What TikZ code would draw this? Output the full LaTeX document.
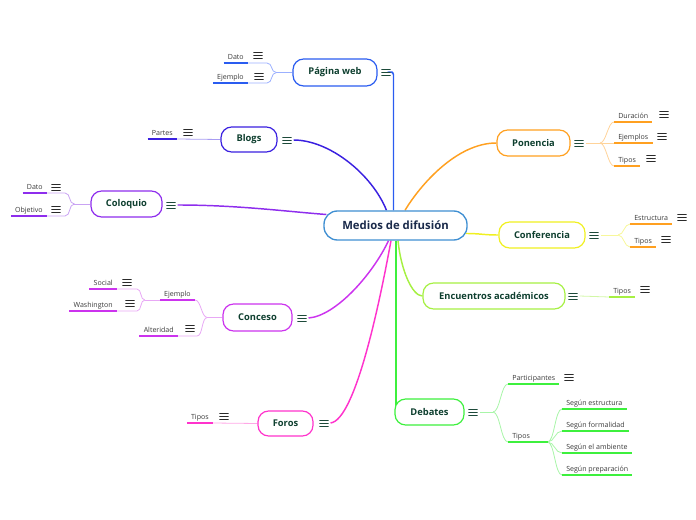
\documentclass[tikz,border=0pt]{standalone}
\usepackage{fontspec}
\setmainfont{Open Sans}
\usetikzlibrary{calc,backgrounds}
\definecolor{txtmain}{HTML}{0E3F2F}
\definecolor{txtc}{HTML}{1B2B4B}
\definecolor{txtsub}{HTML}{3A3A3A}
\definecolor{icmain}{HTML}{1D4A3A}
\definecolor{icsub}{HTML}{2A2A2A}
\definecolor{cblue}{HTML}{3F8FD2}
\definecolor{pwc}{HTML}{2A5CF0}\definecolor{pwl}{HTML}{9BB0FF}
\definecolor{blc}{HTML}{3A20E0}\definecolor{bll}{HTML}{A89CF2}
\definecolor{coc}{HTML}{8E2DED}\definecolor{col}{HTML}{C9A3F3}
\definecolor{cnc}{HTML}{CC33EE}\definecolor{cnl}{HTML}{E8A8F5}
\definecolor{foc}{HTML}{FF33CC}\definecolor{fol}{HTML}{FFA8E6}
\definecolor{ponc}{HTML}{FFA020}\definecolor{ponl}{HTML}{FFD399}
\definecolor{confc}{HTML}{F0F020}\definecolor{confl}{HTML}{F7F79A}
\definecolor{encc}{HTML}{A6F043}\definecolor{encl}{HTML}{D2F7A6}
\definecolor{debc}{HTML}{3DF03D}\definecolor{debl}{HTML}{A8F5A8}
\tikzset{
  topic/.style={draw=#1, line width=0.9pt, fill=white, rounded corners=8pt, inner sep=0pt,
    font=\fontsize{7}{8}\selectfont\bfseries, text=txtmain},
  sublbl/.style={inner xsep=3pt, inner ysep=1.6pt, font=\fontsize{5.3}{6}\selectfont,
    text=txtsub, text height=4pt, text depth=1pt},
  menu/.style={minimum width=6.8pt, minimum height=6pt, inner sep=0pt, outer sep=0pt,
    path picture={
      \foreach \f in {0.12,0.5,0.88}
        \draw[#1,line width=0.65pt] ($(path picture bounding box.south west)!\f!(path picture bounding box.north west)$) -- ($(path picture bounding box.south east)!\f!(path picture bounding box.north east)$);
    }},
  mainc/.style={line width=1.1pt, draw=#1},
  thinc/.style={line width=0.6pt, draw=#1},
  ul/.style={line width=1.3pt, draw=#1},
}
\newcommand\subL[5]{%
  \node[sublbl, anchor=south east] (#1) at (#2,#3) {#4};
  \draw[ul=#5] (#1.south west) -- (#1.south east);}
\newcommand\subR[5]{%
  \node[sublbl, anchor=south west] (#1) at (#2,#3) {#4};
  \draw[ul=#5] (#1.south west) -- (#1.south east);}
\begin{document}
\begin{tikzpicture}[x=0.75pt,y=-0.75pt]
\useasboundingbox (0,0) rectangle (696,520);
% central topic
\node[topic=cblue, line width=1pt, minimum width=107.25pt, minimum height=21.75pt, rounded corners=10pt,
  font=\fontsize{8.5}{10}\selectfont\bfseries, text=txtc] (c) at (395.5,225.5) {Medios de difusión};
% main topics
\node[topic=pwc, minimum width=63pt, minimum height=20.25pt] (pw) at (335,72.5) {Página web};
\node[topic=blc, minimum width=42pt, minimum height=18.75pt] (bl) at (249,139.5) {Blogs};
\node[topic=coc, minimum width=53.25pt, minimum height=19.5pt] (co) at (126.5,204) {Coloquio};
\node[topic=cnc, minimum width=51.75pt, minimum height=20.25pt] (cn) at (257.5,317.5) {Conceso};
\node[topic=foc, minimum width=41.25pt, minimum height=18.75pt] (fo) at (285.5,423.5) {Foros};
\node[topic=ponc, minimum width=54.75pt, minimum height=19.5pt] (pon) at (533.5,143) {Ponencia};
\node[topic=confc, minimum width=64.5pt, minimum height=19.5pt] (conf) at (542,235) {Conferencia};
\node[topic=encc, minimum width=106.5pt, minimum height=19.5pt] (enc) at (494,296) {Encuentros académicos};
\node[topic=debc, minimum width=51.75pt, minimum height=19.5pt] (deb) at (429.5,412) {Debates};
% icons of main topics
\node[menu=icmain] (pwi) at (386,72) {};
\node[menu=icmain] (bli) at (287,140) {};
\node[menu=icmain] (coi) at (171,205) {};
\node[menu=icmain] (cni) at (302,318) {};
\node[menu=icmain] (foi) at (324,423) {};
\node[menu=icmain] (poni) at (579,143) {};
\node[menu=icmain] (confi) at (594,235) {};
\node[menu=icmain] (enci) at (573,296) {};
\node[menu=icmain] (debi) at (473,412) {};
% subtopics
\subL{pwd}{248}{63}{Dato}{pwc}
\subL{pwe}{248}{83}{Ejemplo}{pwc}
\node[menu=icsub] (pwdi) at (258,55) {};
\node[menu=icsub] (pwei) at (259,76) {};
\subL{blp}{177}{139}{Partes}{blc}
\node[menu=icsub] (blpi) at (188,132) {};
\subL{cod}{47}{193}{Dato}{coc}
\subL{coo}{47}{216}{Objetivo}{coc}
\node[menu=icsub] (codi) at (56,187) {};
\node[menu=icsub] (cooi) at (56,209) {};
\subL{cne}{195}{300}{Ejemplo}{cnc}
\subL{cna}{178}{336}{Alteridad}{cnc}
\subL{cns}{117}{289}{Social}{cnc}
\subL{cnw}{117}{311}{Washington}{cnc}
\node[menu=icsub] (cnai) at (190,328) {};
\node[menu=icsub] (cnsi) at (127,282) {};
\node[menu=icsub] (cnwi) at (130,303) {};
\subL{fot}{213}{423}{Tipos}{foc}
\node[menu=icsub] (foti) at (224,416) {};
\subR{pd}{614}{122}{Duración}{ponc}
\subR{pe}{614}{143}{Ejemplos}{ponc}
\subR{pt}{614}{166}{Tipos}{ponc}
\node[menu=icsub] (pdi) at (664,114) {};
\node[menu=icsub] (pei) at (662,136) {};
\node[menu=icsub] (pti) at (651,158) {};
\subR{ce}{630}{224}{Estructura}{ponc}
\subR{ct}{630}{247}{Tipos}{ponc}
\node[menu=icsub] (cei) at (682,217) {};
\node[menu=icsub] (cti) at (666,239) {};
\subR{et}{609}{297}{Tipos}{encc}
\node[menu=icsub] (eti) at (645,289) {};
\subR{dp}{508}{384}{Participantes}{debc}
\node[menu=icsub] (dpi) at (569,377) {};
\node[sublbl, anchor=south west, text width=23.25pt, align=left] (dt) at (508,442) {Tipos};
\draw[ul=debc] (dt.south west) -- (dt.south east);
\subR{ds1}{562}{409}{Según estructura}{debc}
\subR{ds2}{562}{431}{Según formalidad}{debc}
\subR{ds3}{562}{453}{Según el ambiente}{debc}
\subR{ds4}{562}{475}{Según preparación}{debc}
% connectors
\begin{scope}[on background layer]
% main
\draw[mainc=pwc, rounded corners=2pt] ($(pwi.east)+(2,0)$) -| ($(c.north)+(-2,0)$);
\draw[mainc=blc] ($(bli.east)+(2,0)$) .. controls +(36,0) and +(-14.5,-36) .. ($(c.north)+(-9,0)$);
\draw[mainc=coc] ($(coi.east)+(2,0)$) .. controls +(60,0) and +(-40,-3) .. ($(c.west)+(3,-11)$);
\draw[mainc=cnc] ($(cni.east)+(2,0)$) .. controls +(27,-2) and +(-16,34) .. ($(c.south)+(-7,0)$);
\draw[mainc=foc] ($(foi.east)+(2,0)$) .. controls +(25,-3) and +(-11,60) .. ($(c.south)+(-4.5,0)$);
\draw[mainc=ponc] ($(c.north)+(9.5,0)$) .. controls +(15,-25) and +(-40,0) .. (pon.west);
\draw[mainc=confc] ($(c.east)+(-2,8)$) .. controls +(15,0) and +(-15,0) .. (conf.west);
\draw[mainc=encc] ($(c.south)+(2.5,0)$) .. controls +(3,30) and +(-10,0) .. (enc.west);
\draw[mainc=debc, line width=1.4pt] ($(deb.west |- c.south)+(1.5,0)$) -- ($(deb.west)+(1.5,0)$);
% Pagina web
\draw[thinc=pwl] (pw.west) -- ++(-16,0) coordinate (pwj);
\draw[thinc=pwl] (pwj) .. controls +(-6,0) and +(6,0) .. ($(pwd.south east)+(19,0)$) -- (pwd.south east);
\draw[thinc=pwl] (pwj) .. controls +(-6,0) and +(6,0) .. ($(pwe.south east)+(19,0)$) -- (pwe.south east);
% Blogs
\draw[thinc=bll] (bl.west) -- (blp.south east);
% Coloquio
\draw[thinc=col] (co.west) -- ++(-16,0) coordinate (coj);
\draw[thinc=col] (coj) .. controls +(-6,0) and +(6,0) .. ($(cod.south east)+(18,0)$) -- (cod.south east);
\draw[thinc=col] (coj) .. controls +(-6,0) and +(6,0) .. ($(coo.south east)+(18,0)$) -- (coo.south east);
% Conceso
\draw[thinc=cnl] (cn.west) -- ++(-15,0) coordinate (cnj);
\draw[thinc=cnl] (cnj) .. controls +(-6,0) and +(6,0) .. (cne.south east);
\draw[thinc=cnl] (cnj) .. controls +(-6,0) and +(6,0) .. ($(cna.south east)+(19,0)$) -- (cna.south east);
\draw[thinc=cnl] (cne.south west) -- ++(-15,0) coordinate (cnj2);
\draw[thinc=cnl] (cnj2) .. controls +(-5,0) and +(5,0) .. ($(cns.south east)+(20,0)$) -- (cns.south east);
\draw[thinc=cnl] (cnj2) .. controls +(-5,0) and +(5,0) .. ($(cnw.south east)+(20,0)$) -- (cnw.south east);
% Foros
\draw[thinc=fol] (fo.west) -- (fot.south east);
% Ponencia
\draw[thinc=ponl] ($(poni.east)+(2,0)$) -- ($(poni.east)+(16.5,0)$) coordinate (ponj);
\draw[thinc=ponl] (ponj) .. controls +(6,0) and +(-6,0) .. (pd.south west);
\draw[thinc=ponl] (ponj) -- (pe.south west);
\draw[thinc=ponl] (ponj) .. controls +(6,0) and +(-6,0) .. (pt.south west);
% Conferencia
\draw[thinc=confl] ($(confi.east)+(2,0)$) -- ($(confi.east)+(19.5,0)$) coordinate (cfj);
\draw[thinc=confl] (cfj) .. controls +(6,0) and +(-6,0) .. (ce.south west);
\draw[thinc=confl] (cfj) .. controls +(6,0) and +(-6,0) .. (ct.south west);
% Encuentros
\draw[thinc=encl] ($(enci.east)+(2,0)$) -- (et.south west);
% Debates
\draw[thinc=debl] ($(debi.east)+(2,0)$) -- ($(debi.east)+(15.5,0)$) coordinate (dbj);
\draw[thinc=debl] (dbj) .. controls +(7,0) and +(-7,0) .. (dp.south west);
\draw[thinc=debl] (dbj) .. controls +(7,0) and +(-7,0) .. (dt.south west);
\foreach \n in {ds1,ds2,ds3,ds4}
  \draw[thinc=debl] (dt.south east) .. controls +(7,0) and +(-7,0) .. (\n.south west);
\end{scope}
\end{tikzpicture}
\end{document}
